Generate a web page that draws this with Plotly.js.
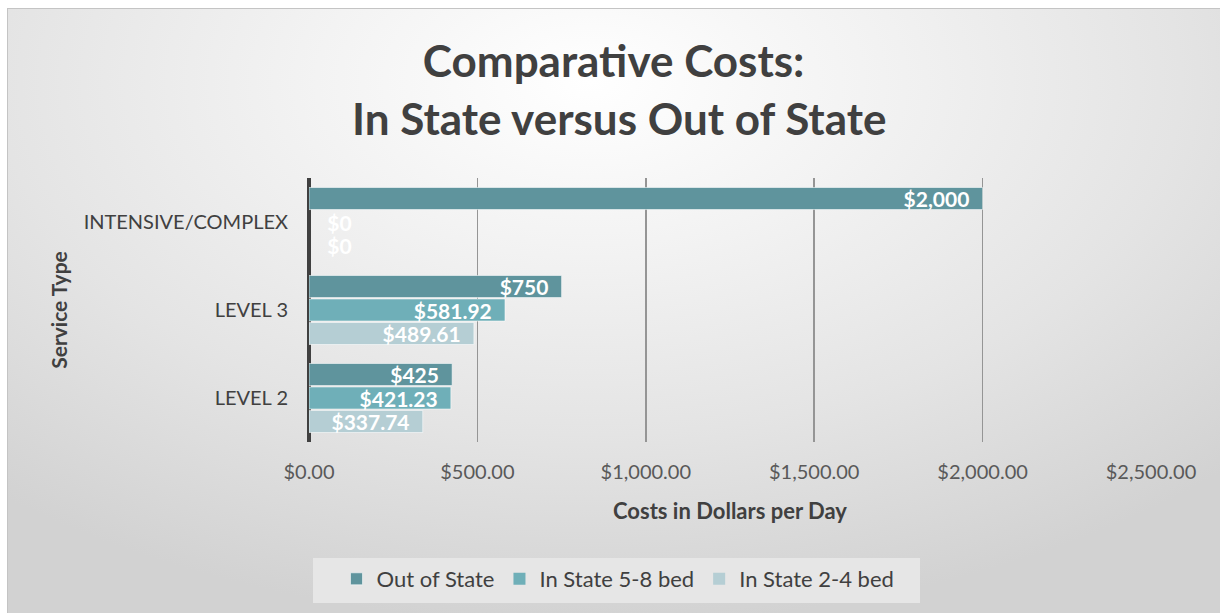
<!DOCTYPE html>
<html>
<head>
<meta charset="utf-8">
<script src="https://cdn.plot.ly/plotly-3.0.1.min.js"></script>
<style>
  html, body { margin: 0; padding: 0; width: 1220px; height: 613px; overflow: hidden; background: #ffffff; }
  #frame { position: absolute; left: 7px; top: 8px; width: 1213px; height: 605px;
    border-top: 1px solid #c4c4c4; border-left: 1px solid #c4c4c4; box-sizing: border-box;
    background: radial-gradient(ellipse 75% 90% at 48% 12%, #ffffff 0%, #f3f3f3 30%, #e4e4e4 65%, #d2d2d2 100%); }
  #chart { position: absolute; left: 0; top: 0; width: 1220px; height: 613px; }
</style>
</head>
<body>
<div id="frame"></div>
<div id="chart"></div>
<script>
const categories = ["INTENSIVE/COMPLEX", "LEVEL 3", "LEVEL 2"];
const seriesNames = ["Out of State", "In State 5-8 bed", "In State 2-4 bed"];
const outOfState = [2000, 750, 425];
const inState58 = [0, 581.92, 421.23];
const inState24 = [0, 489.61, 337.74];
const xTickVals = [0, 500, 1000, 1500, 2000, 2500];
const xTickText = ["$0.00", "$500.00", "$1,000.00", "$1,500.00", "$2,000.00", "$2,500.00"];
const colors = ["#5f949d", "#6fafb8", "#b5ced4"];

const FONT = "Lato, 'Open Sans', sans-serif";
const NB = "\u00a0";
const seriesValues = [outOfState, inState58, inState24];

const labelFont = { family: FONT, size: 21, color: "#ffffff", weight: "bold" };
const traces = seriesValues.map((vals, i) => ({
  type: "bar",
  orientation: "h",
  name: seriesNames[i],
  y: categories,
  x: vals,
  marker: { color: colors[i], line: { color: vals.map(v => v > 0 ? "rgba(255,255,255,0.55)" : "rgba(0,0,0,0)"), width: 1 } },
  texttemplate: vals.map(v => v > 0 ? "$%{x:,}" + NB + NB : NB + NB + NB + "$%{x:,}"),
  textposition: vals.map(v => v > 0 ? "inside" : "outside"),
  insidetextanchor: "end",
  constraintext: "none",
  textfont: labelFont,
  insidetextfont: labelFont,
  outsidetextfont: labelFont,
  cliponaxis: false,
  hoverinfo: "x+name"
}));

const layout = {
  width: 1220,
  height: 613,
  paper_bgcolor: "rgba(0,0,0,0)",
  plot_bgcolor: "rgba(0,0,0,0)",
  margin: { l: 309, r: 69, t: 178, b: 171 },
  font: { family: FONT, color: "#404040" },
  title: {
    text: "Comparative Costs:",
    font: { family: FONT, size: 44, color: "#404040", weight: "bold" },
    x: 0.503, xanchor: "center", xref: "container",
    y: 1 - 62 / 613, yanchor: "middle", yref: "container"
  },
  annotations: [{
    text: "In State versus Out of State",
    font: { family: FONT, size: 44, color: "#404040", weight: "bold" },
    xref: "paper", yref: "paper",
    x: (619 - 309) / 842, xanchor: "center",
    y: (442 - 118) / 264, yanchor: "middle",
    showarrow: false
  }],
  shapes: [{
    type: "rect", layer: "below",
    xref: "paper", yref: "paper",
    x0: (313 - 309) / 842, x1: (920 - 309) / 842,
    y0: (442 - 558) / 264, y1: (442 - 603) / 264,
    fillcolor: "#e6e6e6", line: { width: 0 }
  }],
  barmode: "group",
  bargap: 0.2,
  bargroupgap: 0.06,
  xaxis: {
    range: [0, 2500],
    tickvals: xTickVals,
    ticktext: xTickText,
    tickfont: { family: FONT, size: 20, color: "#595959" },
    ticklabelstandoff: 16,
    showgrid: true,
    gridcolor: "#959595",
    gridwidth: 1.6,
    zeroline: true,
    zerolinecolor: "#404040",
    zerolinewidth: 4,
    showline: false,
    ticks: "",
    fixedrange: true,
    title: {
      text: "Costs in Dollars per Day",
      font: { family: FONT, size: 22, color: "#404040", weight: "bold" },
      standoff: 21
    }
  },
  yaxis: {
    type: "category",
    autorange: "reversed",
    tickfont: { family: FONT, size: 20, color: "#404040" },
    ticklabelstandoff: 20,
    showgrid: false,
    showline: false,
    ticks: "",
    fixedrange: true,
    title: {
      text: "Service Type",
      font: { family: FONT, size: 21, color: "#404040", weight: "bold" },
      standoff: 10
    }
  },
  showlegend: true,
  legend: {
    orientation: "h",
    x: (618 - 309) / 842, xanchor: "center",
    y: (442 - 558) / 264, yanchor: "top",
    bgcolor: "rgba(0,0,0,0)",
    font: { family: FONT, size: 22, color: "#404040" },
    traceorder: "normal"
  }
};

Plotly.newPlot("chart", traces, layout, { displayModeBar: false, staticPlot: true });
</script>
</body>
</html>
